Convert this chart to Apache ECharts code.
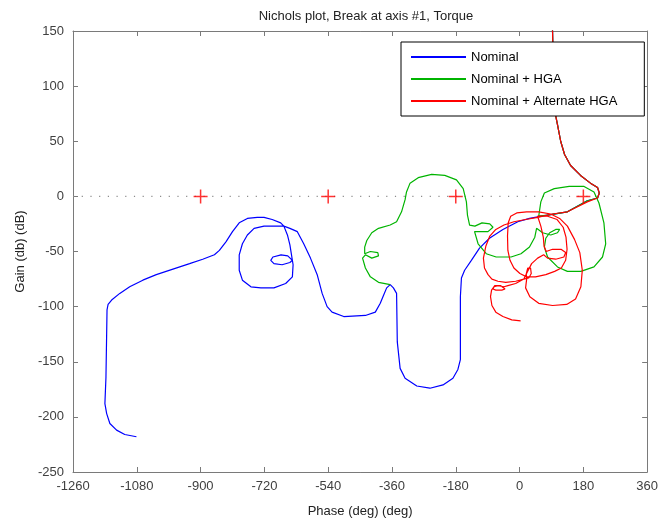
<!DOCTYPE html>
<html>
<head>
<meta charset="utf-8">
<title>Nichols plot</title>
<script src="https://cdn.jsdelivr.net/npm/echarts@6/dist/echarts.min.js"></script>
<style>
  html, body { margin: 0; padding: 0; background: #fff; }
  #chart { width: 661px; height: 523px; }
</style>
</head>
<body>
<div id="chart"></div>
<script>
// Phase (deg) / gain (dB) pairs for each open-loop response.
// Low-frequency branch common to all three responses.
const sharedHighGain = [[92,160],[93,150],[96,106],[102,73],[107,65],[116,50],[127,38],[144,28],[172,19],[200,12],[220,8],[225,3],[220,-1.5]];

const nominalBranch = [[191,-4],[135,-14],[79,-17],[28,-20],[-5,-23],[-47,-30],[-85,-38],[-113,-47],[-136,-58],[-155,-67],[-164,-74],[-167,-91],[-167,-121],[-167,-148],[-174,-157],[-188,-165],[-216,-171],[-253,-174],[-290,-172],[-323,-165],[-337,-156],[-345,-132],[-347,-88],[-356,-83],[-365,-80],[-375,-83],[-384,-90],[-393,-97],[-407,-105],[-435,-108],[-496,-109],[-529,-105],[-543,-100],[-557,-88],[-571,-71],[-590,-56],[-609,-43],[-627,-32],[-648,-29],[-665,-27],
  [-721,-27],[-749,-29],[-768,-35],[-782,-43],[-791,-53],[-791,-67],[-782,-76],[-758,-82],[-730,-83],[-693,-83],[-660,-79],[-641,-73],[-639,-62],[-641,-58],
  [-654,-54],[-673,-53],[-696,-55],[-702,-58],[-693,-61],[-670,-62],[-648,-60],[-641,-58],
  [-648,-44],[-655,-35],[-665,-27],
  [-674,-24],[-698,-21],[-721,-19],[-740,-19],[-768,-20],[-791,-24],[-810,-32],[-828,-41],[-847,-49],[-861,-53],[-894,-57],[-931,-61],[-978,-66],[-1025,-71],[-1063,-76],[-1100,-82],[-1128,-88],[-1151,-94],[-1161,-98],[-1164,-103],[-1165,-124],[-1167,-164],[-1170,-188],[-1165,-197],[-1156,-206],[-1137,-212],[-1114,-216],[-1081,-218]];

const hgaBranch = [[191,-4],[135,-14],[79,-17],[54,-18],[60,-5],[70,3],[98,7],[140,9],[182,9],[210,4],[224,-6],[238,-24],[243,-43],[234,-55],[210,-64],[173,-68],[135,-68],[107,-64],[79,-55],[70,-46],[74,-38],[85,-33],[102,-30],[113,-30],[107,-33],[88,-35],[65,-33],[48,-29],[43,-37],[28,-46],[4,-52],[-24,-55],[-66,-55],[-94,-52],[-117,-43],[-127,-32],
  [-108,-32],[-89,-32],[-75,-28],[-84,-25],[-106,-24],[-126,-27],[-141,-26],[-147,-17],[-150,-5],[-159,7],[-178,15],[-211,19],[-248,20],[-286,17],[-309,12],[-319,4],[-323,-3],[-333,-14],[-347,-23],[-365,-26],[-398,-29],[-417,-33],[-431,-40],[-437,-46],[-437,-52],
  [-421,-50],[-400,-51],[-398,-54],[-417,-56],[-435,-53],[-443,-56],[-435,-65],[-421,-73],[-398,-78],[-365,-80]];

const altHgaBranch = [[191,-5],[135,-14],[93,-16],[51,-19],[17,-21],[-16,-23],[-44,-26],[-67,-30],[-84,-36],[-95,-45],[-102,-56],[-99,-65],[-89,-71],[-78,-75],[-61,-77],[-39,-78],[-11,-77],[12,-75],[26,-74],
  [33,-70],[31,-65],[23,-65],[19,-70],[20,-75],
  [17,-83],[29,-91],[54,-97],[93,-99],[133,-98],[158,-93],[173,-82],[177,-67],[170,-51],[155,-39],[135,-27],[113,-20],[88,-16],[54,-14],[20,-14],[-8,-15],[-25,-18],
  [-32,-24],[-34,-36],[-33,-49],[-27,-58],[-16,-65],[1,-70],[20,-73],[45,-73],[74,-71],[99,-68],[118,-65],[130,-58],[134,-48],[131,-37],[123,-28],[106,-21],[79,-18],[51,-18],
  [60,-27],[67,-37],[69,-45],[75,-50],[93,-48],[117,-48],[130,-51],[125,-55],[102,-57],[79,-56],[68,-53],
  [51,-56],[34,-61],[23,-68],[12,-75],[-11,-79],[-33,-81],[-44,-82],[-61,-81],[-72,-82],[-75,-84],[-67,-85],[-50,-85],[-41,-84],[-53,-81],[-70,-81],
  [-79,-85],[-82,-91],[-78,-99],[-67,-105],[-47,-109],[-22,-112],[3,-113]];

// Critical points (-180 deg + k*360 deg, 0 dB)
const criticalPoints = [[-900,0],[-540,0],[-180,0],[180,0]];

const phaseRange = [-1260, 360];
const gainRange = [-250, 150];
const seriesNames = ['Nominal', 'Nominal + HGA', 'Nominal + Alternate HGA'];
const seriesColors = ['#0000ff', '#00b400', '#ff0000'];

const FONT = '"Liberation Sans", Arial, sans-serif';
const axisGray = '#7a7a7a';
const labelGray = '#404040';

const chart = echarts.init(document.getElementById('chart'), null, { renderer: 'canvas' });

function curve(name, color, pts) {
  return {
    name: name,
    type: 'line',
    data: pts,
    showSymbol: false,
    symbol: 'none',
    clip: true,
    smooth: false,
    lineStyle: { color: color, width: 1.2 },
    itemStyle: { color: color },
    emphasis: { disabled: true },
    z: 3
  };
}

const tickCommon = { show: true, inside: true, length: 5, lineStyle: { color: axisGray } };

chart.setOption({
  animation: false,
  backgroundColor: '#ffffff',
  title: {
    text: 'Nichols plot, Break at axis #1, Torque',
    left: 361,
    top: 5,
    textAlign: 'center',
    textStyle: { fontFamily: FONT, fontSize: 13, fontWeight: 'normal', color: '#222' }
  },
  legend: {
    data: seriesNames,
    orient: 'vertical',
    left: 401,
    top: 42,
    padding: [8, 27, 8, 10],
    itemGap: 8,
    itemWidth: 55,
    itemHeight: 2,
    icon: 'rect',
    backgroundColor: '#ffffff',
    borderColor: '#000000',
    borderWidth: 1,
    textStyle: { fontFamily: FONT, fontSize: 13, color: '#000', lineHeight: 14, padding: [0, 0, 0, 0] },
    z: 10
  },
  grid: { left: 73, right: 11, top: 31, bottom: 51, containLabel: false },
  xAxis: [{
    type: 'value',
    min: phaseRange[0], max: phaseRange[1], interval: 180,
    position: 'bottom',
    name: 'Phase (deg) (deg)',
    nameLocation: 'middle',
    nameGap: 33,
    nameTextStyle: { fontFamily: FONT, fontSize: 13, color: '#222' },
    axisLine: { show: true, onZero: false, lineStyle: { color: axisGray } },
    axisTick: tickCommon,
    axisLabel: { fontFamily: FONT, fontSize: 13, color: labelGray, margin: 8, formatter: v => String(v) },
    splitLine: { show: false }
  }, {
    type: 'value',
    min: phaseRange[0], max: phaseRange[1], interval: 180,
    position: 'top',
    axisLine: { show: true, onZero: false, lineStyle: { color: axisGray } },
    axisTick: tickCommon,
    axisLabel: { show: false },
    splitLine: { show: false }
  }],
  yAxis: [{
    type: 'value',
    min: gainRange[0], max: gainRange[1], interval: 50,
    position: 'left',
    name: 'Gain (db) (dB)',
    nameLocation: 'middle',
    nameGap: 45,
    nameTextStyle: { fontFamily: FONT, fontSize: 13, color: '#222' },
    axisLine: { show: true, onZero: false, lineStyle: { color: axisGray } },
    axisTick: tickCommon,
    axisLabel: { fontFamily: FONT, fontSize: 13, color: labelGray, margin: 9, formatter: v => String(v) },
    splitLine: { show: false }
  }, {
    type: 'value',
    min: gainRange[0], max: gainRange[1], interval: 50,
    position: 'right',
    axisLine: { show: true, onZero: false, lineStyle: { color: axisGray } },
    axisTick: tickCommon,
    axisLabel: { show: false },
    splitLine: { show: false }
  }],
  series: [
    {
      name: 'zeroDb',
      type: 'line',
      data: [[phaseRange[0], 0], [phaseRange[1], 0]],
      showSymbol: false,
      symbol: 'none',
      lineStyle: { color: '#8c8c8c', width: 1.2, type: [1.2, 7.5] },
      emphasis: { disabled: true },
      z: 1
    },
    curve(seriesNames[0], seriesColors[0], sharedHighGain.concat(nominalBranch)),
    curve(seriesNames[1], seriesColors[1], sharedHighGain.concat(hgaBranch)),
    curve(seriesNames[2], seriesColors[2], sharedHighGain.concat(altHgaBranch)),
    {
      name: 'critical',
      type: 'scatter',
      data: criticalPoints,
      symbol: 'path://M0,6.25H14V7.75H0Z M6.25,0H7.75V14H6.25Z',
      symbolSize: 14,
      itemStyle: { color: '#ff0000' },
      emphasis: { disabled: true },
      z: 4
    }
  ]
});
</script>
</body>
</html>
